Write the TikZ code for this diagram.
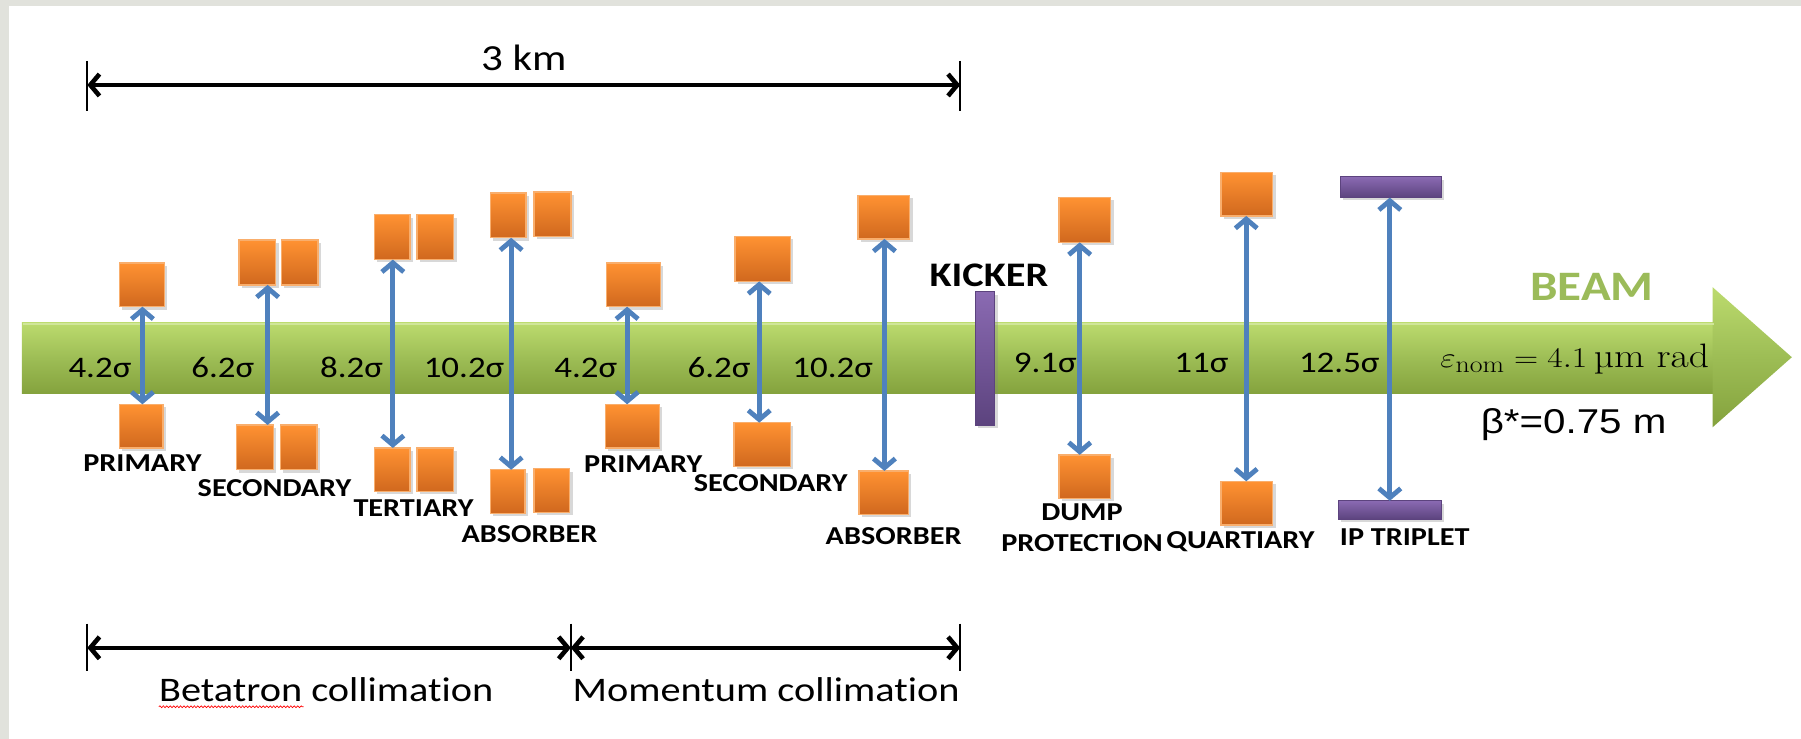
\documentclass[tikz,border=0pt]{standalone}
\usepackage[no-math]{fontspec}
\usepackage{graphicx}
\setmainfont{Carlito}[FakeStretch=1.17,Ligatures=NoCommon]
\newfontfamily\arialf{Liberation Sans}[FakeStretch=1.17]
\newfontfamily\lmr{Latin Modern Roman}
\usetikzlibrary{arrows.meta,shadows,decorations.pathmorphing}
\definecolor{orTop}{HTML}{FF9232}
\definecolor{orBot}{HTML}{D0681E}
\definecolor{orEdge}{HTML}{F9AE6C}
\definecolor{grTop}{HTML}{BCDB6E}
\definecolor{grMid}{HTML}{9DBD55}
\definecolor{grBot}{HTML}{84A23D}
\definecolor{puTop}{HTML}{8A6AB2}
\definecolor{puBot}{HTML}{5C437E}
\definecolor{bl}{HTML}{4F81BD}
\definecolor{beamc}{HTML}{9BBB59}
\definecolor{framec}{HTML}{E1E2DC}
\tikzset{
  obox/.style={rectangle, inner sep=0pt, outer sep=0pt, draw=orEdge, line width=1.2pt,
    top color=orTop, bottom color=orBot,
    drop shadow={shadow xshift=2.5pt, shadow yshift=-2.5pt, opacity=.3}},
  pbar/.style={rectangle, inner sep=0pt, outer sep=0pt, draw=puBot, line width=0.8pt,
    top color=puTop, bottom color=puBot,
    drop shadow={shadow xshift=2.5pt, shadow yshift=-2.5pt, opacity=.3}},
  barrow/.style={draw=bl, line width=4.2pt,
    {Straight Barb[length=8pt,width=19pt]}-{Straight Barb[length=8pt,width=19pt]}},
  dimarrow/.style={draw=black, line width=4pt,
    {Straight Barb[length=8pt,width=19pt]}-{Straight Barb[length=8pt,width=19pt]}},
  tickline/.style={draw=black, line width=1.4pt},
  lab/.style={inner sep=0pt, font=\fontsize{22.5}{27}\selectfont\bfseries, align=center},
  sig/.style={inner sep=0pt, font=\fontsize{26}{28}\selectfont},
}
\begin{document}
\begin{tikzpicture}[x=1pt,y=-1pt]
\useasboundingbox (0,0) rectangle (1568,643);
\fill[white] (0,0) rectangle (1568,643);
\fill[framec] (0,0) rectangle (8,643);
\fill[framec] (0,0) rectangle (1568,5);

% beam band
\shade[top color=grTop, bottom color=grBot, middle color=grMid] (19,281) rectangle (1492,343);
\shade[top color=grTop, bottom color=grBot, middle color=grMid] (1491,250) -- (1560,311) -- (1491,372) -- cycle;
\draw[line width=1.2pt, color=grTop!70!white] (20,282) -- (1492,282);

% arrow x positions
\coordinate (xp1) at (124,0);
\coordinate (xs1) at (233,0);
\coordinate (xt1) at (342,0);
\coordinate (xa1) at (445,0);
\coordinate (xp2) at (546,0);
\coordinate (xs2) at (661,0);
\coordinate (xa2) at (770,0);
\coordinate (xd) at (940,0);
\coordinate (xq) at (1085,0);
\coordinate (xip) at (1210,0);

% collimators
\node[obox,minimum width=39pt,minimum height=38pt] (p1u) at (123.5,248) {};
\node[obox,minimum width=38pt,minimum height=38pt] (p1l) at (123,371) {};
\node[obox,minimum width=32pt,minimum height=39pt] (s1ua) at (224,228.5) {};
\node[obox,minimum width=32pt,minimum height=39pt] (s1ub) at (261,228.5) {};
\node[obox,minimum width=32pt,minimum height=39pt] (s1la) at (222,389.5) {};
\node[obox,minimum width=32pt,minimum height=39pt] (s1lb) at (260,389.5) {};
\node[obox,minimum width=31pt,minimum height=39pt] (t1ua) at (341.5,206.5) {};
\node[obox,minimum width=32pt,minimum height=39pt] (t1ub) at (379,206.5) {};
\node[obox,minimum width=31pt,minimum height=38pt] (t1la) at (341.5,409) {};
\node[obox,minimum width=32pt,minimum height=38pt] (t1lb) at (379,409) {};
\node[obox,minimum width=31pt,minimum height=39pt] (a1ua) at (442.5,187.5) {};
\node[obox,minimum width=32pt,minimum height=39pt] (a1ub) at (481,186.5) {};
\node[obox,minimum width=30pt,minimum height=38pt] (a1la) at (442,428) {};
\node[obox,minimum width=31pt,minimum height=38pt] (a1lb) at (480.5,427) {};
\node[obox,minimum width=47pt,minimum height=38pt] (p2u) at (551.5,248) {};
\node[obox,minimum width=47pt,minimum height=38pt] (p2l) at (550.5,371) {};
\node[obox,minimum width=48pt,minimum height=39pt] (s2u) at (664,225.5) {};
\node[obox,minimum width=49pt,minimum height=38pt] (s2l) at (663.5,387) {};
\node[obox,minimum width=45pt,minimum height=38pt] (a2u) at (769.5,189) {};
\node[obox,minimum width=43pt,minimum height=38pt] (a2l) at (769.5,429) {};
\node[obox,minimum width=45pt,minimum height=39pt] (du) at (944.5,191.5) {};
\node[obox,minimum width=45pt,minimum height=38pt] (dl) at (944.5,415) {};
\node[obox,minimum width=45pt,minimum height=38pt] (qu) at (1085.5,169) {};
\node[obox,minimum width=45pt,minimum height=38pt] (ql) at (1085.5,438) {};
\node[pbar,minimum width=88pt,minimum height=18pt] (ipu) at (1211,163) {};
\node[pbar,minimum width=90pt,minimum height=16pt] (ipl) at (1210,444) {};
\node[pbar,minimum width=17pt,minimum height=116pt] (kick) at (857.5,312) {};

% sigma labels
\node[sig] (g1) at (87,320) {4.2σ};
\node[sig] (g2) at (194,320) {6.2σ};
\node[sig] (g3) at (306,320) {8.2σ};
\node[sig] (g4) at (404,320) {10.2σ};
\node[sig] (g5) at (510,320) {4.2σ};
\node[sig] (g6) at (626,320) {6.2σ};
\node[sig] (g7) at (725,320) {10.2σ};
\node[sig] (g8) at (910,316) {9.1σ};
\node[sig] (g9) at (1046,316) {11σ};
\node[sig] (g10) at (1166,316) {12.5σ};
\node[inner sep=0pt] (eps) at (1371,313) {\scalebox{1.17}[1]{\fontsize{29.5}{32}\selectfont$\varepsilon_{\mathrm{nom}} = 4.1$\,{\lmr µm rad}}};

% double arrows
\draw[barrow] (p1u.south -| xp1) -- (p1l.north -| xp1);
\draw[barrow] (s1ua.south -| xs1) -- (s1la.north -| xs1);
\draw[barrow] (t1ua.south -| xt1) -- (t1la.north -| xt1);
\draw[barrow] (a1ua.south -| xa1) -- (a1la.north -| xa1);
\draw[barrow] (p2u.south -| xp2) -- (p2l.north -| xp2);
\draw[barrow] (s2u.south -| xs2) -- (s2l.north -| xs2);
\draw[barrow] (a2u.south -| xa2) -- (a2l.north -| xa2);
\draw[barrow] (du.south -| xd) -- (dl.north -| xd);
\draw[barrow] (qu.south -| xq) -- (ql.north -| xq);
\draw[barrow] (ipu.south -| xip) -- (ipl.north -| xip);

% labels
\node[lab] (lp1) at (124,403) {PRIMARY};
\node[lab] (ls1) at (239,425) {SECONDARY};
\node[lab] (lt1) at (360,442) {TERTIARY};
\node[lab] (la1) at (461,465) {ABSORBER};
\node[lab] (lp2) at (560,404) {PRIMARY};
\node[lab] (ls2) at (671,421) {SECONDARY};
\node[lab] (la2) at (778,467) {ABSORBER};
\node[lab] (ld) at (942,459) {DUMP\\PROTECTION};
\node[lab] (lq) at (1080,472) {QUARTIARY};
\node[lab] (lip) at (1223,468) {IP TRIPLET};
\node[inner sep=0pt, font=\fontsize{30}{32}\selectfont\bfseries] (lkick) at (861,240) {KICKER};
\node[inner sep=0pt, font=\fontsize{36.5}{40}\selectfont\bfseries, text=beamc] (beam) at (1386,250) {BEAM};
\node[inner sep=0pt, font=\arialf\fontsize{30}{32}\selectfont] (beta) at (1370,370) {β*=0.75 m};

% 3 km dimension
\coordinate (k1) at (76,74);
\coordinate (k2) at (836,74);
\draw[dimarrow] (k1) -- (k2);
\draw[tickline] ([yshift=21pt]k1) -- ([yshift=-23pt]k1);
\draw[tickline] ([yshift=21pt]k2) -- ([yshift=-23pt]k2);
\node[inner sep=0pt, font=\fontsize{32}{34}\selectfont] (km) at (456,50) {3 km};

% bottom dimensions
\coordinate (b1) at (76,564);
\coordinate (b2) at (497,564);
\coordinate (b3) at (836,564);
\draw[dimarrow] (b1) -- (b2);
\draw[dimarrow] (b2) -- (b3);
\draw[tickline] ([yshift=21pt]b1) -- ([yshift=-20pt]b1);
\draw[tickline] ([yshift=21pt]b2) -- ([yshift=-20pt]b2);
\draw[tickline] ([yshift=21pt]b3) -- ([yshift=-20pt]b3);
\node[inner sep=0pt, font=\fontsize{30}{32}\selectfont] (bet) at (284,600) {Betatron collimation};
\node[inner sep=0pt, font=\fontsize{30}{32}\selectfont] (mom) at (667,600) {Momentum collimation};
\draw[red, line width=0.6pt, decorate, decoration={snake, amplitude=0.8pt, segment length=3pt}]
  ([yshift=-5pt]bet.base west) -- ++(126,0);
\end{tikzpicture}
\end{document}
